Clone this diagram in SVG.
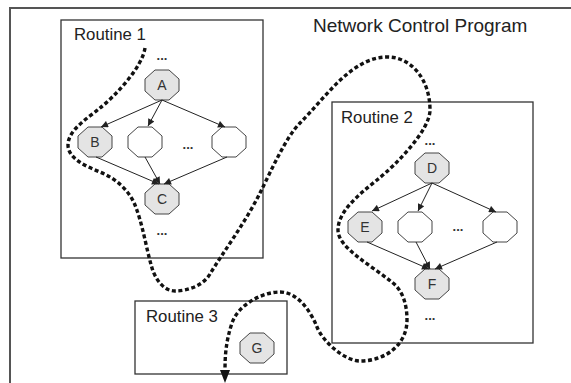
<svg xmlns="http://www.w3.org/2000/svg" xmlns:xlink="http://www.w3.org/1999/xlink" width="571" height="383" viewBox="0 0 571 383">
<style>
.box{fill:none;stroke:#333;stroke-width:1.3}
.frame{fill:none;stroke:#555;stroke-width:2}
.lbl{font-family:"Liberation Sans",Arial,sans-serif;font-size:16.8px;fill:#222}
.title{font-family:"Liberation Sans",Arial,sans-serif;font-size:19px;fill:#222}
.dots{font-family:"Liberation Sans",Arial,sans-serif;font-size:13px;font-weight:bold;fill:#333;text-anchor:middle}
.nt{font-family:"Liberation Sans",Arial,sans-serif;font-size:14px;fill:#333;text-anchor:middle}
.oct{stroke:#444;stroke-width:1}
.g{fill:#e4e4e4}
.w{fill:#fff}
.edge{stroke:#222;stroke-width:1;fill:none;marker-end:url(#ah)}
.path{fill:none;stroke:#111;stroke-width:3.4;stroke-dasharray:4 2.6}
</style>
<defs>
<marker id="ah" viewBox="0 0 10 10" refX="10" refY="5" markerWidth="9" markerHeight="7" markerUnits="userSpaceOnUse" orient="auto">
<path d="M0,0 L10,5 L0,10 z" fill="#222"/>
</marker>
<polygon id="oct" points="-7,-15 7,-15 17,-6 17,6 7,15 -7,15 -17,6 -17,-6"/>
</defs>
<rect class="frame" x="10" y="8" width="600" height="400"/>
<text class="title" x="313" y="32">Network Control Program</text>

<g id="routine1">
<rect class="box" x="61" y="20" width="202" height="238"/>
<text class="lbl" x="74" y="40">Routine 1</text>
<text class="dots" x="162" y="60">...</text>
<text class="dots" x="188" y="149">...</text>
<text class="dots" x="162" y="235">...</text>
</g>
<g id="routine2">
<rect class="box" x="332" y="102" width="201" height="241"/>
<text class="lbl" x="341" y="123">Routine 2</text>
<text class="dots" x="430" y="145">...</text>
<text class="dots" x="458" y="231">...</text>
<text class="dots" x="430" y="320">...</text>
</g>
<g id="routine3">
<rect class="box" x="135" y="301" width="152" height="73"/>
<text class="lbl" x="146" y="322">Routine 3</text>
</g>

<g id="nodeA"><use xlink:href="#oct" href="#oct" class="oct g" x="162" y="85"/><text class="nt" x="162" y="90">A</text></g>
<g id="nodeB"><use xlink:href="#oct" href="#oct" class="oct g" x="95" y="142"/><text class="nt" x="95" y="147">B</text></g>
<g id="nodeR1a"><use xlink:href="#oct" href="#oct" class="oct w" x="145" y="142"/></g>
<g id="nodeR1b"><use xlink:href="#oct" href="#oct" class="oct w" x="229" y="142"/></g>
<g id="nodeC"><use xlink:href="#oct" href="#oct" class="oct g" x="162" y="199"/><text class="nt" x="162" y="204">C</text></g>

<g id="nodeD"><use xlink:href="#oct" href="#oct" class="oct g" x="432" y="168"/><text class="nt" x="432" y="173">D</text></g>
<g id="nodeE"><use xlink:href="#oct" href="#oct" class="oct g" x="365" y="227"/><text class="nt" x="365" y="232">E</text></g>
<g id="nodeR2a"><use xlink:href="#oct" href="#oct" class="oct w" x="415" y="227"/></g>
<g id="nodeR2b"><use xlink:href="#oct" href="#oct" class="oct w" x="500" y="227"/></g>
<g id="nodeF"><use xlink:href="#oct" href="#oct" class="oct g" x="432" y="284"/><text class="nt" x="432" y="289">F</text></g>

<g id="nodeG"><use xlink:href="#oct" href="#oct" class="oct g" x="257" y="348"/><text class="nt" x="257" y="353">G</text></g>

<g id="connectors">
<line class="edge" x1="162" y1="100" x2="101" y2="127"/>
<line class="edge" x1="162" y1="100" x2="148" y2="126"/>
<line class="edge" x1="162" y1="100" x2="225" y2="127"/>
<line class="edge" x1="96" y1="157" x2="159" y2="184"/>
<line class="edge" x1="145" y1="157" x2="160" y2="184"/>
<line class="edge" x1="227" y1="157" x2="164" y2="184"/>
<line class="edge" x1="432" y1="183" x2="372" y2="211"/>
<line class="edge" x1="432" y1="183" x2="418" y2="211"/>
<line class="edge" x1="432" y1="183" x2="496" y2="212"/>
<line class="edge" x1="367" y1="242" x2="429" y2="269"/>
<line class="edge" x1="416" y1="242" x2="430" y2="269"/>
<line class="edge" x1="497" y1="242" x2="435" y2="269"/>
<path class="path" d="M145,48 C142,68 115,96 100,108 C88,118 68,130 68,145 C68,158 85,166 100,172 C115,178 129,190 135,205 C143,225 146,248 152,268 C155,278 163,291 175,291 C187,291 203,286 210,274 C222,254 245,223 260,193 C272,169 286,137 300,123 C325,98 352,57 387,57 C412,57 430,80 430,110 C430,130 397,164 377,180 C357,196 338,212 338,230 C338,248 371,265 393,283 C403,291 407,305 407,320 C407,345 385,361 360,361 C345,361 323,342 317,327 C311,312 298,292 280,292 C262,292 238,305 232,323 C226,341 225,355 225,370"/>
<polygon points="220,370 230,370 225,383" fill="#111"/>
</g>
</svg>
